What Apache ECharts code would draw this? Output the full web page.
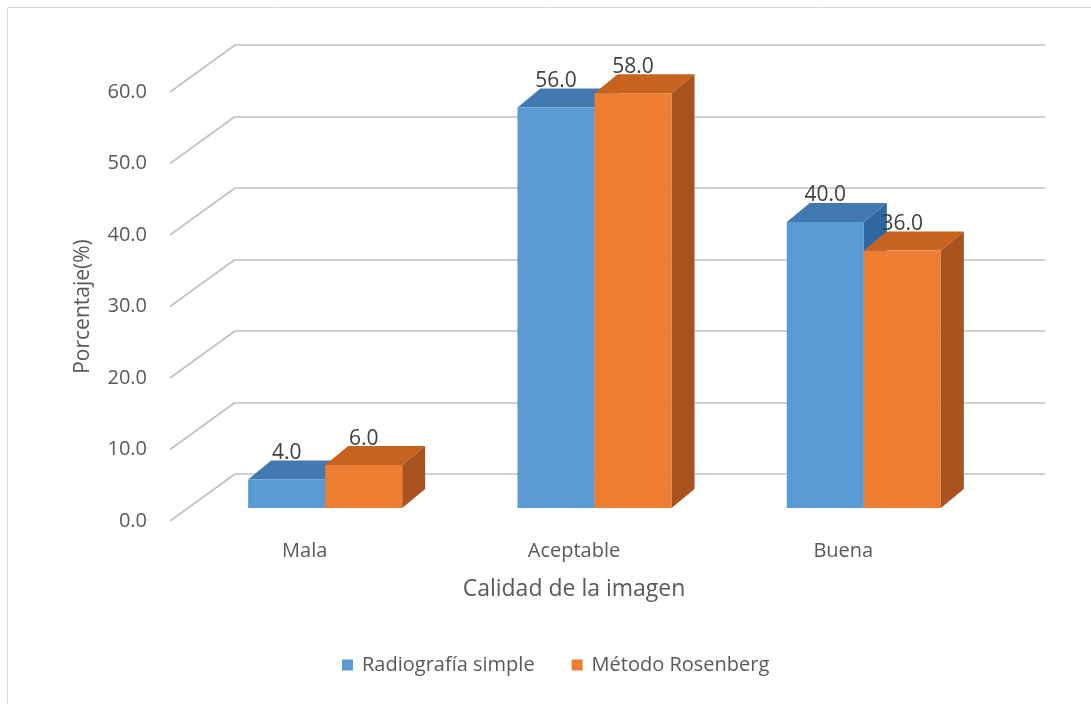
<!DOCTYPE html>
<html>
<head>
<meta charset="utf-8">
<script src="https://cdn.jsdelivr.net/npm/echarts@6.0.0/dist/echarts.min.js"></script>
<style>
  html, body { margin: 0; padding: 0; background: #ffffff; }
  #chart { width: 1091px; height: 704px; }
</style>
</head>
<body>
<div id="chart"></div>
<script>
// Data
const categories = ['Mala', 'Aceptable', 'Buena'];
const radiografiaSimple = [4.0, 56.0, 40.0];
const metodoRosenberg = [6.0, 58.0, 36.0];
const yTicks = [0, 10, 20, 30, 40, 50, 60];
const seriesNames = ['Radiografía simple', 'Método Rosenberg'];

// Look & geometry of the pseudo-3D scene
const FONT = 'Open Sans';
const TEXT_COLOR = '#595959';
const GRID_COLOR = '#c0c0c0';
const WALL_DX = 65, WALL_DY = -47;           // depth of the floor / side wall
const BAR_SHIFT_X = 20.5, BAR_SHIFT_Y = -13; // bars stand a little inside the floor
const BAR_DX = 23, BAR_DY = -19;             // depth of each bar
const BAR_FRACTION = 0.286;                  // bar width as part of a category band

const blueFaces = { front: '#5b9bd5', top: '#4279b1', side: '#2f68a0' };
const orangeFaces = { front: '#ed7d31', top: '#c7621f', side: '#a9541f' };

function barRenderer(side, faces) {
  return function (params, api) {
    const cat = api.value(0);
    const val = api.value(1);
    const base = api.coord([cat, 0]);
    const top = api.coord([cat, val]);
    const w = api.size([1, 0])[0] * BAR_FRACTION;
    const cx = base[0] + BAR_SHIFT_X;
    const x0 = side < 0 ? cx - w : cx;
    const x1 = x0 + w;
    const yb = base[1] + BAR_SHIFT_Y;
    const yt = top[1] + BAR_SHIFT_Y;
    return {
      type: 'group',
      children: [
        { type: 'polygon',
          shape: { points: [[x0, yt], [x1, yt], [x1 + BAR_DX, yt + BAR_DY], [x0 + BAR_DX, yt + BAR_DY]] },
          style: { fill: faces.top } },
        { type: 'polygon',
          shape: { points: [[x1, yt], [x1 + BAR_DX, yt + BAR_DY], [x1 + BAR_DX, yb + BAR_DY], [x1, yb]] },
          style: { fill: faces.side } },
        { type: 'rect',
          shape: { x: x0, y: yt, width: w, height: yb - yt },
          style: { fill: faces.front } },
        { type: 'text',
          style: {
            text: val.toFixed(1),
            x: (x0 + x1) / 2,
            y: yt + BAR_DY + 3,
            align: 'center',
            verticalAlign: 'bottom',
            fill: '#404040',
            fontFamily: FONT,
            fontSize: 21
          } }
      ]
    };
  };
}

const chart = echarts.init(document.getElementById('chart'), null, { renderer: 'canvas' });

chart.setOption({
  backgroundColor: '#ffffff',
  animation: false,
  textStyle: { fontFamily: FONT },
  graphic: [{
    type: 'rect',
    shape: { x: 7.5, y: 7.5, width: 1200, height: 800 },
    style: { fill: null, stroke: '#d9d9d9', lineWidth: 1 },
    silent: true
  }],
  legend: {
    data: seriesNames,
    left: 337,
    top: 650,
    icon: 'rect',
    itemWidth: 11,
    itemHeight: 11,
    itemGap: 37,
    textStyle: { fontFamily: FONT, fontSize: 20, color: TEXT_COLOR, padding: [0, 0, 0, 4] }
  },
  grid: [
    // floor front edge: tick labels, category labels, bars
    { left: 170, right: 113, top: 92, bottom: 183 },
    // back wall: horizontal grid lines
    { left: 235, right: 46, top: 45, bottom: 230 }
  ],
  xAxis: [
    {
      type: 'category', gridIndex: 0, data: categories,
      axisLine: { show: false }, axisTick: { show: false },
      axisLabel: { fontFamily: FONT, fontSize: 20, color: TEXT_COLOR, margin: 20 },
      name: 'Calidad de la imagen', nameLocation: 'middle', nameGap: 57,
      nameTextStyle: { fontFamily: FONT, fontSize: 23, color: TEXT_COLOR }
    },
    { type: 'category', gridIndex: 1, data: categories, show: false }
  ],
  yAxis: [
    {
      type: 'value', gridIndex: 0, min: 0, max: 60, interval: 10,
      axisLine: { show: false }, axisTick: { show: false }, splitLine: { show: false },
      axisLabel: { fontFamily: FONT, fontSize: 20, color: TEXT_COLOR, margin: 23,
                   formatter: v => v.toFixed(1) },
      name: 'Porcentaje(%)', nameLocation: 'middle', nameGap: 76, nameRotate: 90,
      nameTextStyle: { fontFamily: FONT, fontSize: 21, color: TEXT_COLOR }
    },
    {
      type: 'value', gridIndex: 1, min: 0, max: 60, interval: 10,
      axisLine: { show: false }, axisTick: { show: false }, axisLabel: { show: false },
      splitLine: { show: true, lineStyle: { color: GRID_COLOR, width: 1.6 } }
    }
  ],
  series: [
    {
      // slanted part of each grid line, along the left wall
      type: 'custom', name: 'wall', xAxisIndex: 0, yAxisIndex: 0, silent: true,
      data: yTicks.map(v => [0, v]),
      encode: { x: 0, y: 1 },
      renderItem: function (params, api) {
        const p = api.coord([0, api.value(1)]);
        const x = params.coordSys.x;
        return {
          type: 'line',
          shape: { x1: x, y1: p[1], x2: x + WALL_DX, y2: p[1] + WALL_DY },
          style: { stroke: GRID_COLOR, lineWidth: 1.6 }
        };
      }
    },
    {
      type: 'custom', name: seriesNames[0], xAxisIndex: 0, yAxisIndex: 0,
      itemStyle: { color: blueFaces.front },
      data: radiografiaSimple.map((v, i) => [i, v]),
      encode: { x: 0, y: 1 },
      renderItem: barRenderer(-1, blueFaces)
    },
    {
      type: 'custom', name: seriesNames[1], xAxisIndex: 0, yAxisIndex: 0,
      itemStyle: { color: orangeFaces.front },
      data: metodoRosenberg.map((v, i) => [i, v]),
      encode: { x: 0, y: 1 },
      renderItem: barRenderer(1, orangeFaces)
    }
  ]
});
</script>
</body>
</html>
